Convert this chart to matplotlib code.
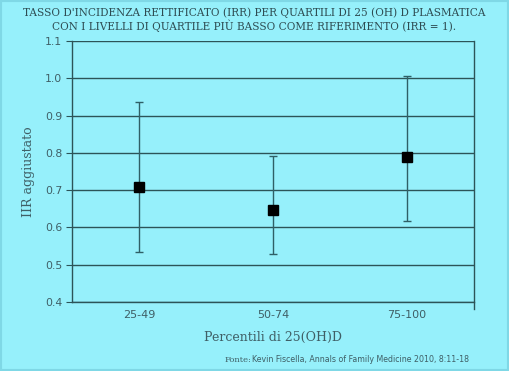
import matplotlib.pyplot as plt
from matplotlib.patches import Rectangle

# Data
categories = ['25-49', '50-74', '75-100']
irr = [0.708, 0.647, 0.789]
ci_low = [0.535, 0.530, 0.617]
ci_high = [0.936, 0.791, 1.005]
yticks = [0.4, 0.5, 0.6, 0.7, 0.8, 0.9, 1.0, 1.1]

bg = '#96f0fb'
line_col = '#2c5458'
text_col = '#3f5f66'

fig = plt.figure(figsize=(5.09, 3.71), dpi=100)
fig.patch.set_facecolor(bg)
fig.patches.append(Rectangle((0, 0), 1, 1, transform=fig.transFigure,
                             fill=False, edgecolor='#7fd8e6', linewidth=3))

ax = fig.add_axes([0.1415, 0.186, 0.7895, 0.7035])
ax.set_facecolor(bg)

x = list(range(len(categories)))
err = [[v - lo for v, lo in zip(irr, ci_low)],
       [hi - v for v, hi in zip(irr, ci_high)]]
ax.errorbar(x, irr, yerr=err, fmt='s', color='black', markersize=6.5,
            ecolor='#2f5f66', elinewidth=1.0, capsize=3, capthick=1.0, zorder=3)

ax.set_xlim(-0.5, 2.5)
ax.set_ylim(0.4, 1.1)
ax.set_yticks(yticks)
ax.set_yticklabels(['%.1f' % t for t in yticks])
ax.set_xticks(x)
ax.set_xticklabels(categories)
ax.grid(axis='y', color=line_col, linewidth=1.0)
ax.set_axisbelow(True)

for side in ['left', 'right', 'bottom']:
    ax.spines[side].set_color(line_col)
    ax.spines[side].set_linewidth(1.0)
ax.spines['top'].set_visible(False)
ax.spines['right'].set_bounds(0.38, 1.1)
ax.spines['right'].set_clip_on(False)

ax.tick_params(axis='y', length=4, color=line_col, labelsize=7.8, labelcolor=text_col, pad=3)
ax.tick_params(axis='x', length=0, labelsize=8, labelcolor=text_col, pad=6)

ax.set_ylabel('IIR aggiustato', family='DejaVu Serif', fontsize=9, color=text_col, labelpad=7)
ax.set_xlabel('Percentili di 25(OH)D', family='DejaVu Serif', fontsize=9, color=text_col, labelpad=8)

fig.text(0.5, 0.966, "TASSO D'INCIDENZA RETTIFICATO (IRR) PER QUARTILI DI 25 (OH) D PLASMATICA",
         ha='center', va='center', family='DejaVu Serif', fontsize=7.6, color='#2e4c52')
fig.text(0.5, 0.930, "CON I LIVELLI DI QUARTILE PIÙ BASSO COME RIFERIMENTO (IRR = 1).",
         ha='center', va='center', family='DejaVu Serif', fontsize=7.6, color='#2e4c52')

fig.text(0.493, 0.018, 'Fonte:', ha='right', va='bottom', family='DejaVu Serif',
         fontsize=6.0, color=text_col)
fig.text(0.496, 0.018, 'Kevin Fiscella, Annals of Family Medicine 2010, 8:11-18',
         ha='left', va='bottom', family='DejaVu Sans', fontsize=5.7, color=text_col)

fig.savefig('out.png', dpi=100, facecolor=bg)
